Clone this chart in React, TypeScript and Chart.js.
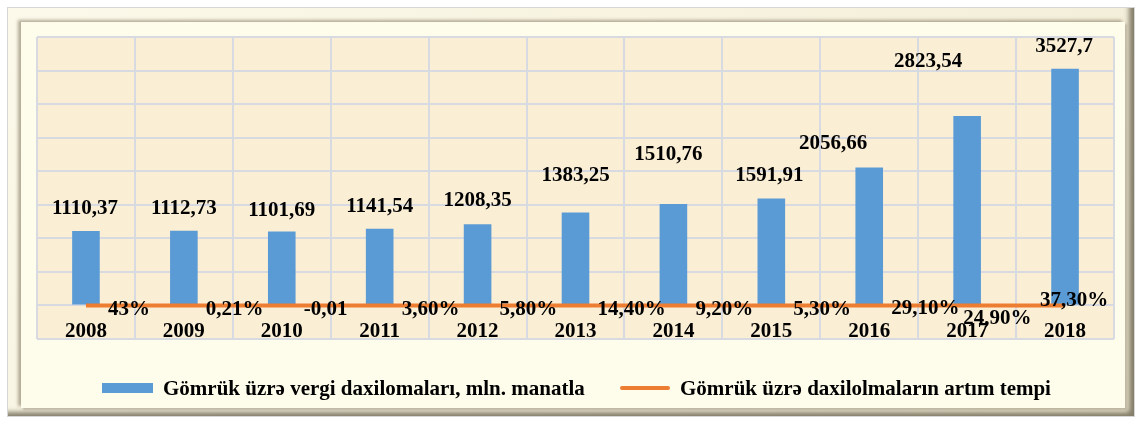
import React, { useEffect, useRef } from "react";
import { Chart, registerables } from "chart.js";

Chart.register(...registerables);

const years = ["2008", "2009", "2010", "2011", "2012", "2013", "2014", "2015", "2016", "2017", "2018"];
const revenue = [1110.37, 1112.73, 1101.69, 1141.54, 1208.35, 1383.25, 1510.76, 1591.91, 2056.66, 2823.54, 3527.7];
const growthRate = [0.43, 0.0021, -0.0001, 0.036, 0.058, 0.144, 0.092, 0.053, 0.291, 0.249, 0.373];
const growthLabels = ["43%", "0,21%", "-0,01", "3,60%", "5,80%", "14,40%", "9,20%", "5,30%", "29,10%", "24,90%", "37,30%"];
const yMin = -500;
const yMax = 4000;
const yStep = 500;
const revenueName = "Gömrük üzrə vergi daxilomaları, mln. manatla";
const growthName = "Gömrük üzrə daxilolmaların artım tempi";

// label offsets (px) relative to mark anchor
const revenueLabelOffsets = [
  [-1, -22], [0, -22], [0, -21], [0, -22], [0, -24], [0, -37],
  [-5, -49], [-2, -23], [-36, -24], [-39, -54], [-1, -22],
];
const growthLabelOffsets = [
  [22, 4], [22, 4], [22, 4], [22, 4], [22, 4], [22, 4],
  [22, 4], [22, 4], [22, 3], [-4, 13], [-25, -5],
];

const BLUE = "#5B9BD5";
const ORANGE = "#ED7D31";
const FONT = '"Liberation Serif", "Times New Roman", serif';

const labelsPlugin = {
  id: "customLabels",
  beforeDraw(chart: any) {
    const { ctx, chartArea } = chart;
    ctx.save();
    ctx.fillStyle = "#FAEED5";
    ctx.fillRect(chartArea.left, chartArea.top, chartArea.right - chartArea.left, chartArea.bottom - chartArea.top);
    ctx.restore();
  },
  afterDatasetsDraw(chart: any) {
    const { ctx, chartArea } = chart;
    const barMeta = chart.getDatasetMeta(0);
    const lineMeta = chart.getDatasetMeta(1);
    const xScale = chart.scales.x;
    ctx.save();
    ctx.fillStyle = "#000";
    ctx.font = `bold 21px ${FONT}`;
    ctx.textBaseline = "middle";
    // bar value labels
    ctx.textAlign = "center";
    barMeta.data.forEach((el: any, i: number) => {
      const [dx, dy] = revenueLabelOffsets[i];
      ctx.fillText(String(revenue[i]).replace(".", ","), el.x + dx, el.y + dy);
    });
    // growth labels
    ctx.textAlign = "left";
    lineMeta.data.forEach((el: any, i: number) => {
      const [dx, dy] = growthLabelOffsets[i];
      ctx.fillText(growthLabels[i], el.x + dx, el.y + dy);
    });
    // year labels inside the plot area
    ctx.textAlign = "center";
    years.forEach((yr, i) => {
      ctx.fillText(yr, xScale.getPixelForValue(i), chartArea.bottom - 7);
    });
    ctx.restore();
  },
};

export default function App() {
  const canvasRef = useRef<HTMLCanvasElement | null>(null);

  useEffect(() => {
    if (!canvasRef.current) return;
    const chart = new Chart(canvasRef.current, {
      data: {
        labels: years,
        datasets: [
          {
            type: "bar",
            label: revenueName,
            data: revenue,
            backgroundColor: BLUE,
            borderWidth: 0,
            barPercentage: 0.282,
            categoryPercentage: 1,
            order: 1,
          },
          {
            type: "line",
            label: growthName,
            data: growthRate,
            borderColor: ORANGE,
            backgroundColor: ORANGE,
            borderWidth: 4,
            pointRadius: 0,
            tension: 0,
            order: 0,
          },
        ],
      } as any,
      options: {
        animation: false,
        responsive: false,
        maintainAspectRatio: false,
        layout: { padding: { left: 37, right: 25, top: 37, bottom: 82 } },
        plugins: {
          legend: { display: false },
          tooltip: { enabled: false },
        },
        scales: {
          x: {
            offset: true,
            grid: { offset: true, color: "#D8DAE2", lineWidth: 2, drawTicks: false },
            border: { display: false },
            ticks: { display: false },
            afterFit: (s: any) => { s.height = 0; },
          },
          y: {
            min: yMin,
            max: yMax,
            ticks: { display: false, stepSize: yStep },
            grid: { color: "#D8DAE2", lineWidth: 2, drawTicks: false },
            border: { display: false },
            afterFit: (s: any) => { s.width = 0; },
          },
        },
      } as any,
      plugins: [labelsPlugin],
    });
    return () => chart.destroy();
  }, []);

  const legendText: React.CSSProperties = {
    position: "absolute",
    top: 377,
    fontFamily: FONT,
    fontWeight: "bold",
    fontSize: 21,
    lineHeight: "22px",
    color: "#000",
    whiteSpace: "nowrap",
  };

  return (
    <div style={{ position: "absolute", left: 0, top: 0, width: 1139, height: 421, background: "#fff", overflow: "hidden" }}>
      <div
        style={{
          position: "absolute",
          left: 7,
          top: 7,
          width: 1128,
          height: 410,
          boxSizing: "border-box",
          border: "1px solid #D6D6D6",
          background: "linear-gradient(135deg, #FCF9EA 0%, #F1EBD3 100%)",
          boxShadow: "inset -8px -7px 5px -3px rgba(95,88,70,0.75)",
        }}
      />
      <div
        style={{
          position: "absolute",
          left: 21,
          top: 22,
          width: 1104,
          height: 386,
          background: "#FEFCEA",
          boxShadow: "-3px -2px 3px rgba(120,110,85,0.55), 2px 2px 2px rgba(150,140,120,0.5)",
        }}
      />
      <canvas ref={canvasRef} width={1139} height={421} style={{ position: "absolute", left: 0, top: 0, width: 1139, height: 421 }} />
      <div style={{ position: "absolute", left: 102, top: 383, width: 51, height: 10, background: BLUE }} />
      <div style={{ ...legendText, left: 163 }}>{revenueName}</div>
      <div style={{ position: "absolute", left: 620, top: 386, width: 50, height: 4, borderRadius: 2, background: ORANGE }} />
      <div style={{ ...legendText, left: 680 }}>{growthName}</div>
    </div>
  );
}
